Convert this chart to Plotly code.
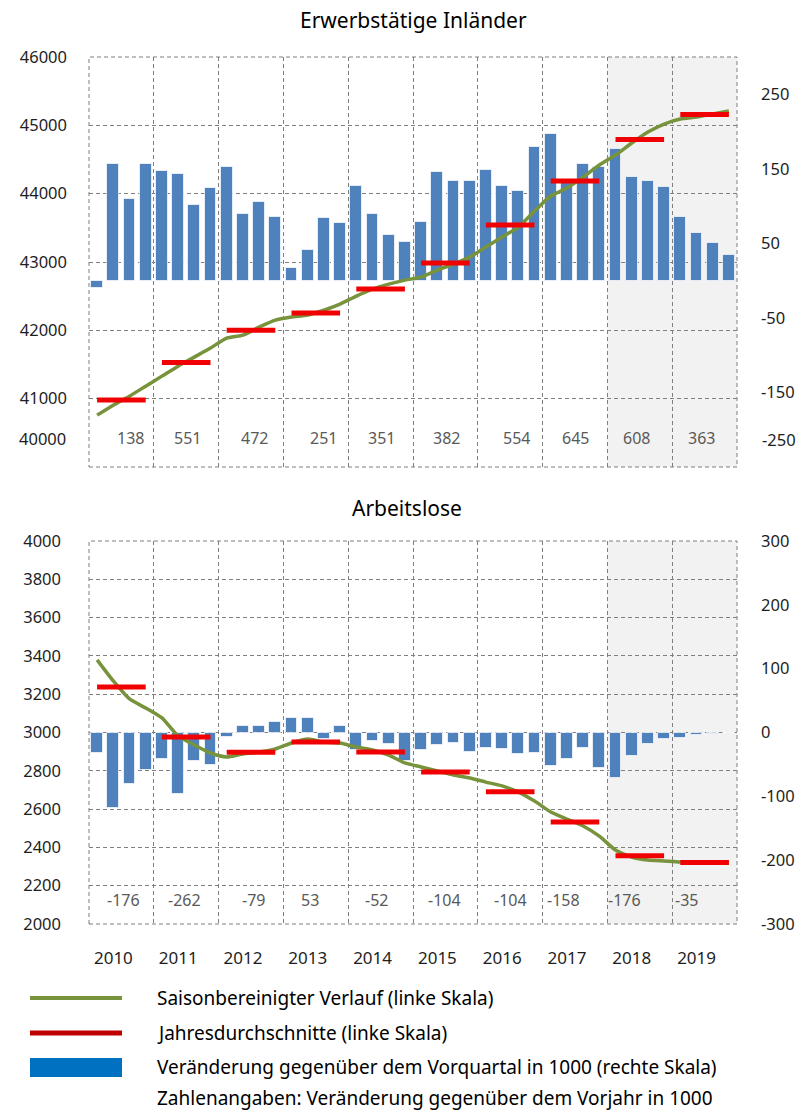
import plotly.graph_objects as go

# ---------------- data ----------------
years = ["2010", "2011", "2012", "2013", "2014", "2015", "2016", "2017", "2018", "2019"]

# Erwerbstätige Inländer
emp_qoq = [-10, 156, 110, 157, 147, 143, 102, 124, 153, 90, 105, 86,
           17, 41, 84, 77, 127, 90, 61, 52, 79, 146, 134, 134,
           148, 127, 120, 179, 197, 135, 157, 153, 177, 139, 134, 126,
           86, 64, 50, 34]
emp_sa = [40759, 40905, 41037, 41183, 41330, 41476, 41608, 41740,
          41886, 41930, 42047, 42150, 42194, 42223, 42296, 42384,
          42501, 42604, 42677, 42735, 42779, 42882, 42970, 43072,
          43218, 43365, 43511, 43745, 43965, 44082, 44243, 44419,
          44565, 44741, 44902, 45019, 45092, 45122, 45166, 45209]
emp_avg = [40980, 41531, 42003, 42254, 42605, 42987, 43541, 44186, 44794, 45157]
emp_yoy = ["138", "551", "472", "251", "351", "382", "554", "645", "608", "363"]

# Arbeitslose
ue_qoq = [-32, -119, -80, -58, -42, -97, -44, -51, -7, 10, 10, 17,
          23, 23, -10, 10, -27, -13, -18, -45, -28, -20, -16, -30,
          -24, -26, -34, -32, -52, -42, -24, -56, -71, -37, -18, -10,
          -8, -4, -2, -1]
ue_sa = [3379, 3269, 3175, 3128, 3076, 2982, 2935, 2893,
         2872, 2888, 2898, 2914, 2945, 2966, 2950, 2945,
         2924, 2909, 2882, 2841, 2820, 2799, 2778, 2762,
         2741, 2721, 2689, 2642, 2585, 2548, 2512, 2459,
         2386, 2350, 2334, 2329, 2324, 2324, 2321, 2319]
ue_avg = [3238, 2976, 2897, 2950, 2898, 2794, 2690, 2532, 2356, 2321]
ue_yoy = ["-176", "-262", "-79", "53", "-52", "-104", "-104", "-158", "-176", "-35"]

emp_left_ticks = [40000, 41000, 42000, 43000, 44000, 45000, 46000]
emp_right_ticks = [-250, -150, -50, 50, 150, 250]
ue_left_ticks = [2000, 2200, 2400, 2600, 2800, 3000, 3200, 3400, 3600, 3800, 4000]
ue_right_ticks = [-300, -200, -100, 0, 100, 200, 300]

legend_labels = ["Saisonbereinigter Verlauf (linke Skala)",
                 "Jahresdurchschnitte (linke Skala)",
                 "Veränderung gegenüber dem Vorquartal in 1000 (rechte Skala)",
                 "Zahlenangaben: Veränderung gegenüber dem Vorjahr in 1000"]

# ---------------- styling ----------------
W, H = 805, 1110
FONT = "Noto Sans"
GREEN = "#77933C"
RED = "#F00000"
BLUE = "#4F81BD"
GRID = "#7F7F7F"
DASH = "4px,3px"
# small horizontal nudges (px) of the yearly numbers, as placed in the original
emp_label_nudge = [9, 1, 3, 8, 1, 1, 6, 0, -3, -3]
ue_label_nudge = [2, -2, 2, -6, -4, -1, 0, -12, -15, -18]


def py(p):
    return 1 - p / H


def px(p):
    return p / W


nq = len(emp_qoq)
xq = [i + 0.5 for i in range(nq)]
year_centers = [4 * i + 2 for i in range(len(years))]


def avg_segments(avgs):
    xs, ys = [], []
    for i, v in enumerate(avgs):
        xs += [4 * i + 0.5, 4 * i + 3.5, None]
        ys += [v, v, None]
    return xs, ys


fig = go.Figure()

# top chart
fig.add_trace(go.Bar(x=xq, y=emp_qoq, xaxis="x", yaxis="y", width=0.74,
                     marker=dict(color=BLUE, line=dict(color="rgba(255,255,255,0.7)", width=1)),
                     showlegend=False))
fig.add_trace(go.Scatter(x=xq, y=emp_sa, xaxis="x", yaxis="y2", mode="lines",
                         line=dict(color=GREEN, width=3.5, shape="spline", smoothing=0.6),
                         showlegend=False))
ax, ay = avg_segments(emp_avg)
fig.add_trace(go.Scatter(x=ax, y=ay, xaxis="x", yaxis="y2", mode="lines",
                         line=dict(color=RED, width=5), showlegend=False))

# bottom chart
fig.add_trace(go.Bar(x=xq, y=ue_qoq, xaxis="x2", yaxis="y3", width=0.74,
                     marker=dict(color=BLUE, line=dict(color="rgba(255,255,255,0.7)", width=1)),
                     showlegend=False))
fig.add_trace(go.Scatter(x=xq, y=ue_sa, xaxis="x2", yaxis="y4", mode="lines",
                         line=dict(color=GREEN, width=3.5, shape="spline", smoothing=0.6),
                         showlegend=False))
bx, by = avg_segments(ue_avg)
fig.add_trace(go.Scatter(x=bx, y=by, xaxis="x2", yaxis="y4", mode="lines",
                         line=dict(color=RED, width=5), showlegend=False))

xdom = [px(89), px(737)]
top_dom = [py(467), py(57)]
bot_dom = [py(924), py(541)]
tickfont = dict(family=FONT, size=16.5, color="#1E1E1E")
xtickfont = dict(family=FONT, size=17, color="#1E1E1E")

grid_x = dict(range=[0, 40], showgrid=False, zeroline=False, showline=False,
              tickvals=year_centers, ticktext=years, ticks="",
              minor=dict(tickmode="linear", tick0=0, dtick=4, showgrid=True,
                         gridcolor=GRID, griddash=DASH, gridwidth=1, ticks=""))

fig.update_layout(
    width=W, height=H,
    margin=dict(l=0, r=0, t=0, b=0, autoexpand=False),
    paper_bgcolor="white", plot_bgcolor="rgba(0,0,0,0)",
    bargap=0,
    xaxis=dict(domain=xdom, anchor="y", showticklabels=False, **grid_x),
    yaxis=dict(domain=top_dom, anchor="x", side="right", range=[-250, 300],
               tickvals=emp_right_ticks,
               ticktext=[""] + [str(v) for v in emp_right_ticks[1:]],
               showgrid=False, zeroline=False, showline=False, ticks="",
               tickfont=tickfont, ticklabelstandoff=23),
    yaxis2=dict(anchor="x", overlaying="y", side="left", range=[40000, 46000],
                tickvals=emp_left_ticks,
                ticktext=[""] + [str(v) for v in emp_left_ticks[1:]],
                showgrid=True, gridcolor=GRID, griddash=DASH, gridwidth=1,
                zeroline=False, showline=False, ticks="",
                tickfont=tickfont, ticklabelstandoff=21),
    xaxis2=dict(domain=xdom, anchor="y3", showticklabels=True, tickfont=xtickfont,
                ticklabelstandoff=22, ticklabelshift=-8, **grid_x),
    yaxis3=dict(domain=bot_dom, anchor="x2", side="right", range=[-300, 300],
                tickvals=ue_right_ticks, ticktext=[str(v) for v in ue_right_ticks],
                showgrid=False, zeroline=False, showline=False, ticks="",
                tickfont=tickfont, ticklabelstandoff=23),
    yaxis4=dict(anchor="x2", overlaying="y3", side="left", range=[2000, 4000],
                tickvals=ue_left_ticks, ticktext=[str(v) for v in ue_left_ticks],
                showgrid=True, gridcolor=GRID, griddash=DASH, gridwidth=1,
                zeroline=False, showline=False, ticks="",
                tickfont=tickfont, ticklabelstandoff=27),
)

shapes = []
# forecast shading 2018-2019
for xr, yr in (("x", "y domain"), ("x2", "y3 domain")):
    shapes.append(dict(type="rect", xref=xr, yref=yr, x0=32, x1=40, y0=0, y1=1,
                       fillcolor="#F2F2F2", line=dict(width=0), layer="below"))
# frame (dashed) for both plots
for xr, yr in (("x domain", "y domain"), ("x2 domain", "y3 domain")):
    shapes.append(dict(type="rect", xref=xr, yref=yr, x0=0, x1=1, y0=0, y1=1,
                       line=dict(color=GRID, width=1, dash=DASH), layer="below"))

# legend symbols
shapes.append(dict(type="line", xref="paper", yref="paper", x0=px(30), x1=px(122),
                   y0=py(998), y1=py(998), line=dict(color=GREEN, width=4)))
shapes.append(dict(type="line", xref="paper", yref="paper", x0=px(30), x1=px(122),
                   y0=py(1033), y1=py(1033), line=dict(color="#C00000", width=5)))
shapes.append(dict(type="rect", xref="paper", yref="paper", x0=px(30), x1=px(122),
                   y0=py(1077), y1=py(1058), fillcolor="#0070C0", line=dict(width=0)))
fig.update_layout(shapes=shapes)


def note(text, x, y, font, xref="paper", xanchor="center", xshift=0):
    return dict(text=text, xref=xref, yref="paper", x=x, y=y, showarrow=False,
                xanchor=xanchor, yanchor="middle", font=font, xshift=xshift)


ann = []
titlefont = dict(family=FONT, size=21, color="#000000")
ann.append(note("Erwerbstätige Inländer", px(413), py(20), titlefont))
ann.append(note("Arbeitslose", px(407), py(508), titlefont))
# bottom tick labels of the upper chart (placed higher in the original)
ann.append(note(str(emp_left_ticks[0]), px(68), py(439), tickfont, xanchor="right"))
ann.append(note(str(emp_right_ticks[0]), px(760), py(440), tickfont, xanchor="left"))

numfont = dict(family=FONT, size=16, color="#595959")
for xc, t, s in zip(year_centers, emp_yoy, emp_label_nudge):
    ann.append(note(t, xc, py(438), numfont, xref="x", xshift=s))
for xc, t, s in zip(year_centers, ue_yoy, ue_label_nudge):
    ann.append(note(t, xc, py(900), numfont, xref="x2", xshift=s))

legfont = dict(family=FONT, size=19, color="#000000")
for yy, t in zip([998, 1033, 1067, 1098], legend_labels):
    ann.append(note(t, px(155), py(yy), legfont, xanchor="left"))
fig.update_layout(annotations=ann)

fig.write_html("out.html", config={"displayModeBar": False},
               post_script="document.body.style.margin='0';")
